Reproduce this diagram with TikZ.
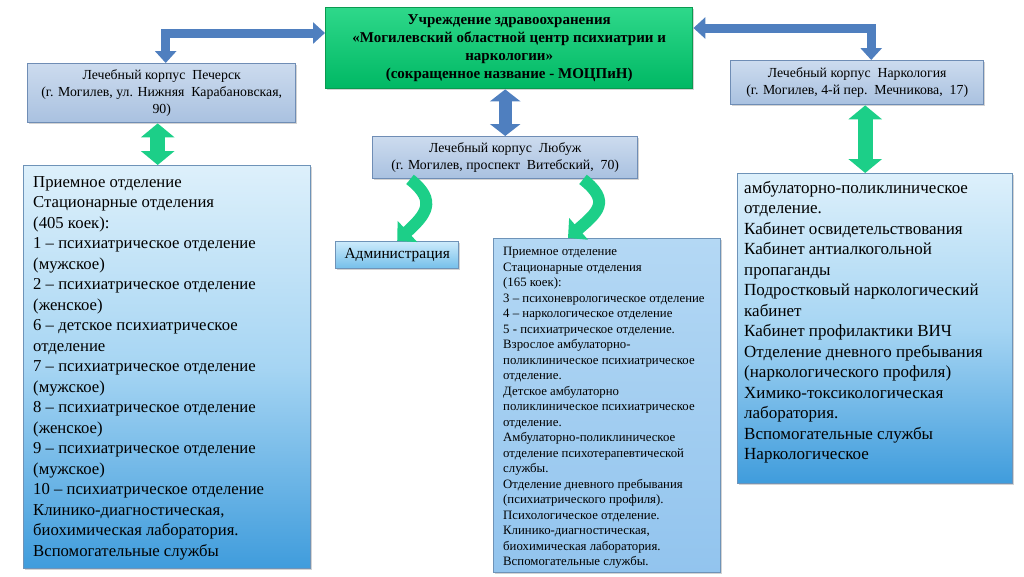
\documentclass[tikz,border=0pt]{standalone}
\usepackage{fontspec}
\setmainfont{Liberation Serif}
\usetikzlibrary{arrows.meta,shadows,calc}
\definecolor{hdrtop}{HTML}{CCDBEE}
\definecolor{hdrbot}{HTML}{A9C1E0}
\definecolor{hdrline}{HTML}{6F8DB5}
\definecolor{grtop}{HTML}{2ED88A}
\definecolor{grbot}{HTML}{00B864}
\definecolor{grline}{HTML}{0A9A50}
\definecolor{bigtop}{HTML}{DDF0FB}
\definecolor{bigmid}{HTML}{A6D5F3}
\definecolor{bigbot}{HTML}{3F9CDC}
\definecolor{midtop}{HTML}{B4D8F4}
\definecolor{midbot}{HTML}{92C4EE}
\definecolor{bigline}{HTML}{6E93B8}
\definecolor{admtop}{HTML}{CBEAFB}
\definecolor{admbot}{HTML}{74BFEA}
\definecolor{bluearrow}{HTML}{4F7FBF}
\definecolor{greenarrow}{HTML}{1CCF88}
\newcommand\fsLeft{\fontsize{16.7}{20.5}\selectfont}
\newcommand\fsRight{\fontsize{17}{20.5}\selectfont}
\newcommand\fsMid{\fontsize{12.8}{15.5}\selectfont}
\newcommand\fsHdr{\fontsize{13.8}{17}\selectfont}
\newcommand\fsTop{\fontsize{15}{18}\selectfont\bfseries}
\begin{document}
\begin{tikzpicture}[x=1pt,y=-1pt,
  box/.style={anchor=north west, inner sep=0pt, line width=1.4pt,
    drop shadow={opacity=0.35, shadow xshift=1.5pt, shadow yshift=-1.5pt}},
  hdrbox/.style={box, top color=hdrtop, bottom color=hdrbot, draw=hdrline,
    align=center, font=\fsHdr},
  greenbox/.style={box, top color=grtop, bottom color=grbot, draw=grline,
    align=center, font=\fsTop},
  bigbox/.style={box, top color=bigtop, bottom color=bigbot, middle color=bigmid, draw=bigline},
  midbox/.style={box, top color=midtop, bottom color=midbot, draw=bigline},
  admbox/.style={box, top color=admtop, bottom color=admbot, draw=bigline, font=\fontsize{15.4}{18}\selectfont},
  bodytext/.style={anchor=north west, inner sep=0pt, align=left},
  barrow/.style={draw=bluearrow, line width=9pt, line join=miter,
    {Triangle[width=21pt,length=12pt]}-{Triangle[width=21pt,length=12pt]}},
  bvarrow/.style={draw=bluearrow, line width=13pt,
    {Triangle[width=30pt,length=12pt]}-{Triangle[width=30pt,length=12pt]}},
  gvarrow/.style={draw=greenarrow, line width=15pt,
    {Triangle[width=33pt,length=14pt]}-{Triangle[width=33pt,length=14pt]}},
  gcurve/.style={draw=greenarrow, line width=12pt,
    -{Triangle[width=28pt,length=14pt]}}
]
\useasboundingbox (0,0) rectangle (1024,576);

% boxes
\node[greenbox, minimum width=367pt, minimum height=81pt] (top) at (325,7)
  {Учреждение здравоохранения\\«Могилевский областной центр психиатрии и\\наркологии»\\(сокращенное название - МОЦПиН)};
\node[hdrbox, minimum width=268pt, minimum height=59pt] (pech) at (27,63)
  {Лечебный корпус\ \ Печерск\\(г. Могилев, ул. Нижняя\ \ Карабановская,\\90)};
\node[hdrbox, minimum width=253pt, minimum height=44pt] (nark) at (730,60)
  {Лечебный корпус\ \ Наркология\\(г. Могилев, 4-й пер.\ \ Мечникова,\ \ 17)};
\node[hdrbox, minimum width=265pt, minimum height=42pt] (lub) at (372,136)
  {Лечебный корпус\ \ Любуж\\(г. Могилев, проспект\ \ Витебский,\ \ 70)};
\node[admbox, minimum width=123pt, minimum height=27pt] (adm) at (335,241)
  {Администрация};
\node[bigbox, minimum width=287pt, minimum height=403pt] (lbox) at (23,165) {};
\node[midbox, minimum width=227pt, minimum height=334pt] (mbox) at (493,238) {};
\node[bigbox, minimum width=275pt, minimum height=310pt] (rbox) at (737,173) {};

% texts
\node[bodytext, font=\fsLeft] (ltext) at ($(lbox.north west)+(10,11)$)
  {Приемное  отделение\\Стационарные  отделения\\(405 коек):\\1 – психиатрическое  отделение\\(мужское)\\2 – психиатрическое  отделение\\(женское)\\6 – детское психиатрическое\\отделение\\7 – психиатрическое  отделение\\(мужское)\\8 – психиатрическое  отделение\\(женское)\\9 – психиатрическое  отделение\\(мужское)\\10 – психиатрическое  отделение\\Клинико-диагностическая,\\биохимическая  лаборатория.\\Вспомогательные  службы};
\node[bodytext, font=\fsMid] (mtext) at ($(mbox.north west)+(10,9)$)
  {Приемное отделение\\Стационарные отделения\\(165 коек):\\3 – психоневрологическое  отделение\\4 – наркологическое  отделение\\5 - психиатрическое  отделение.\\Взрослое  амбулаторно-\\поликлиническое психиатрическое\\отделение.\\Детское  амбулаторно\\поликлиническое психиатрическое\\отделение.\\Амбулаторно-поликлиническое\\отделение психотерапевтической\\службы.\\Отделение дневного пребывания\\(психиатрического профиля).\\Психологическое  отделение.\\Клинико-диагностическая,\\биохимическая  лаборатория.\\Вспомогательные службы.};
\node[bodytext, font=\fsRight] (rtext) at ($(rbox.north west)+(7,8)$)
  {амбулаторно-поликлиническое\\отделение.\\Кабинет  освидетельствования\\Кабинет  антиалкогольной\\пропаганды\\Подростковый  наркологический\\кабинет\\Кабинет  профилактики  ВИЧ\\Отделение  дневного пребывания\\(наркологического  профиля)\\Химико-токсикологическая\\лаборатория.\\Вспомогательные  службы\\Наркологическое};

% blue connectors
\coordinate (pa) at ($(pech.north)+(4,0)$);
\coordinate (ta) at ($(top.north west)+(0,26)$);
\draw[barrow] (pa) |- (ta);
\coordinate (na) at ($(nark.north)+(14,0)$);
\coordinate (tb) at ($(top.north east)+(0,21)$);
\draw[barrow] (na) |- (tb);
\draw[bvarrow] (top.south -| lub.north) -- (lub.north);

% green connectors
\coordinate (pb) at ($(pech.south)+(-4,0)$);
\draw[gvarrow] (pb) -- (pb |- lbox.north);
\coordinate (nb) at ($(nark.south)+(8,0)$);
\draw[gvarrow] (nb) -- (nb |- rbox.north);
\coordinate (la) at ($(lub.south west)+(38,0)$);
\draw[gcurve] (la) .. controls +(28,22) and +(28,-26) .. (adm.north);
\coordinate (lb) at ($(lub.south west)+(211,0)$);
\coordinate (mt) at ($(mbox.north west)+(75,0)$);
\draw[gcurve] (lb) .. controls +(28,22) and +(30,-26) .. (mt);
\end{tikzpicture}
\end{document}
